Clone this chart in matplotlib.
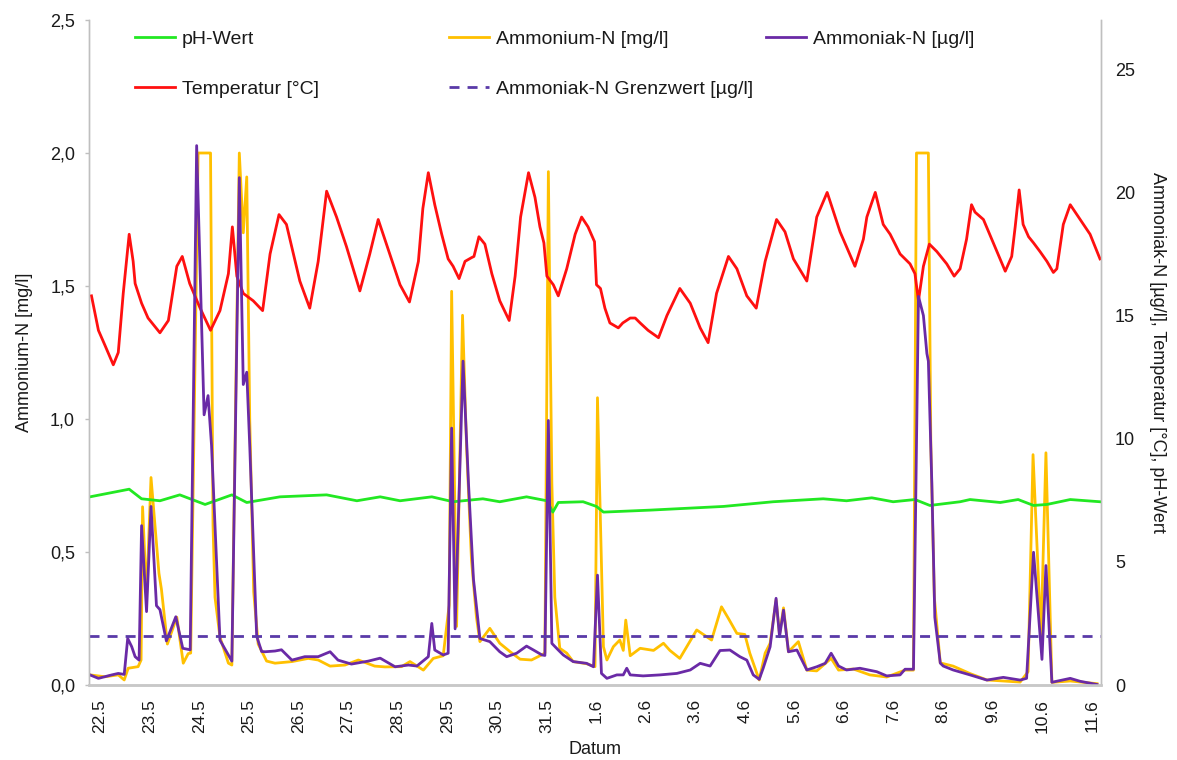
import matplotlib
matplotlib.use('Agg')
import matplotlib.pyplot as plt
from matplotlib.lines import Line2D
from matplotlib.ticker import FuncFormatter, FixedLocator

plt.rcParams['font.family'] = ['Liberation Sans', 'DejaVu Sans']

# ---------------- data (x = days since 22.5.) ----------------
date_labels = ['22.5', '23.5', '24.5', '25.5', '26.5', '27.5', '28.5', '29.5', '30.5', '31.5',
               '1.6', '2.6', '3.6', '4.6', '5.6', '6.6', '7.6', '8.6', '9.6', '10.6', '11.6']

temp_day = [-0.17, -0.03, 0.10, 0.27, 0.37, 0.47, 0.59, 0.67, 0.71, 0.84, 0.97, 1.21, 1.38, 1.55, 1.66,
            1.81, 2.02, 2.23, 2.42, 2.59, 2.67, 2.76, 2.89, 3.09, 3.28, 3.43, 3.61, 3.76, 4.03, 4.23,
            4.40, 4.57, 4.77, 4.97, 5.24, 5.44, 5.61, 6.05, 6.24, 6.42, 6.51, 6.62, 6.75, 6.89, 7.02,
            7.12, 7.24, 7.36, 7.49, 7.54, 7.64, 7.76, 7.90, 8.06, 8.25, 8.37, 8.48, 8.64, 8.77, 8.87,
            8.95, 9.01, 9.14, 9.24, 9.41, 9.58, 9.71, 9.84, 9.97, 10.01, 10.09, 10.18, 10.28, 10.45,
            10.54, 10.69, 10.79, 10.89, 11.05, 11.26, 11.43, 11.69, 11.90, 12.10, 12.26, 12.43, 12.67,
            12.84, 13.04, 13.23, 13.41, 13.64, 13.81, 13.98, 14.25, 14.45, 14.66, 14.92, 15.22, 15.39,
            15.46, 15.63, 15.79, 15.93, 16.13, 16.33, 16.43, 16.50, 16.60, 16.72, 16.87, 17.07, 17.22,
            17.34, 17.47, 17.57, 17.64, 17.81, 18.01, 18.25, 18.38, 18.45, 18.53, 18.61, 18.72, 18.82,
            18.95, 19.09, 19.22, 19.29, 19.42, 19.56, 19.76, 19.96, 20.16]
temp_val = [15.8, 14.4, 13.8, 13.0, 13.5, 15.9, 18.3, 17.2, 16.3, 15.5, 14.9, 14.3, 14.8, 17.0, 17.4,
            16.3, 15.3, 14.4, 15.2, 16.7, 18.6, 16.6, 15.9, 15.6, 15.2, 17.5, 19.1, 18.7, 16.4, 15.3,
            17.2, 20.05, 19.0, 17.8, 16.0, 17.5, 18.9, 16.25, 15.55, 17.2, 19.35, 20.8, 19.5, 18.3, 17.3,
            17.0, 16.5, 17.2, 17.35, 17.4, 18.2, 17.9, 16.7, 15.6, 14.8, 16.6, 19.0, 20.8, 19.8, 18.6,
            17.95, 16.6, 16.25, 15.8, 16.9, 18.3, 19.0, 18.6, 18.0, 16.25, 16.1, 15.3, 14.7, 14.5,
            14.7, 14.9, 14.9, 14.7, 14.4, 14.1, 15.0, 16.1, 15.5, 14.5, 13.9, 15.9, 17.4,
            16.9, 15.8, 15.3, 17.2, 18.9, 18.4, 17.3, 16.4, 19.0, 20.0, 18.4, 17.0, 18.1,
            19.0, 20.0, 18.7, 18.3, 17.5, 17.1, 16.7, 15.6, 17.0, 17.9, 17.6, 17.1, 16.6,
            16.9, 18.1, 19.5, 19.2, 18.9, 17.95, 16.8, 17.4, 18.6, 20.1, 18.7, 18.2, 17.95,
            17.6, 17.2, 16.75, 16.9, 18.7, 19.5, 18.9, 18.3, 17.3]

ph_day = [-0.20, 0.59, 0.84, 1.21, 1.61, 2.12, 2.66, 2.96, 3.63, 4.57, 5.18, 5.65, 6.05, 6.69, 7.12,
          7.72, 8.06, 8.60, 9.01, 9.13, 9.24, 9.74, 10.01, 10.15, 11.09, 12.57, 13.57, 14.58, 15.05,
          15.56, 15.99, 16.43, 16.73, 17.34, 17.54, 18.15, 18.51, 18.82, 19.09, 19.56, 20.16]
ph_val = [7.64, 7.95, 7.56, 7.48, 7.72, 7.33, 7.72, 7.41, 7.64, 7.72, 7.48, 7.64, 7.48, 7.64, 7.44,
          7.56, 7.44, 7.64, 7.48, 7.02, 7.41, 7.44, 7.25, 7.02, 7.10, 7.25, 7.44, 7.56, 7.48,
          7.60, 7.44, 7.53, 7.29, 7.44, 7.53, 7.41, 7.53, 7.29, 7.33, 7.53, 7.44]

nh4_day = [-0.20, 0.10, 0.37, 0.49, 0.57, 0.77, 0.83, 0.86, 0.94, 1.03, 1.19, 1.24, 1.36, 1.55, 1.68,
           1.78, 1.83, 1.98, 2.02, 2.20, 2.23, 2.28, 2.32, 2.42, 2.59, 2.66, 2.70, 2.81, 2.89, 2.96,
           3.02, 3.10, 3.19, 3.36, 3.53, 3.87, 4.20, 4.40, 4.64, 4.94, 5.21, 5.54, 5.75, 6.08, 6.25,
           6.52, 6.72, 6.92, 7.04, 7.09, 7.19, 7.31, 7.39, 7.49, 7.59, 7.66, 7.86, 8.06, 8.27, 8.47,
           8.70, 8.87, 8.97, 9.04, 9.11, 9.17, 9.27, 9.41, 9.54, 9.81, 9.98, 10.03, 10.15, 10.22,
           10.35, 10.48, 10.55, 10.60, 10.69, 10.89, 11.16, 11.36, 11.49, 11.69, 12.03, 12.33, 12.53,
           12.67, 12.84, 13.00, 13.10, 13.29, 13.41, 13.51, 13.63, 13.70, 13.78, 13.88, 14.08, 14.25,
           14.45, 14.74, 14.89, 15.19, 15.52, 15.86, 16.23, 16.40, 16.46, 16.70, 16.75, 16.82, 16.94,
           17.20, 17.54, 17.88, 18.55, 18.71, 18.81, 18.97, 19.07, 19.19, 19.56, 20.10]
nh4_val = [0.038, 0.031, 0.038, 0.019, 0.063, 0.069, 0.094, 0.67, 0.33, 0.78, 0.42, 0.36, 0.154, 0.255, 0.082,
           0.118, 0.12, 2.0, 2.0, 2.0, 2.0, 0.6, 0.33, 0.18, 0.082, 0.075, 0.61, 2.0, 1.7, 1.91,
           1.0, 0.35, 0.154, 0.09, 0.082, 0.088, 0.10, 0.094, 0.071, 0.075, 0.094, 0.071, 0.068, 0.069, 0.088,
           0.056, 0.10, 0.11, 0.3, 1.48, 0.22, 1.39, 0.90, 0.47, 0.255, 0.163, 0.213, 0.157, 0.125, 0.097,
           0.094, 0.11, 0.12, 1.93, 0.76, 0.33, 0.138, 0.12, 0.088, 0.08, 0.069, 1.08, 0.144, 0.094,
           0.144, 0.169, 0.13, 0.244, 0.11, 0.138, 0.13, 0.157, 0.13, 0.10, 0.207, 0.169, 0.294,
           0.25, 0.194, 0.19, 0.12, 0.019, 0.12, 0.157, 0.32, 0.19, 0.29, 0.125, 0.163, 0.056,
           0.053, 0.10, 0.056, 0.06, 0.038, 0.03, 0.056, 0.056, 2.0, 2.0, 0.90, 0.33, 0.083,
           0.071, 0.043, 0.019, 0.011, 0.05, 0.866, 0.18, 0.873, 0.01, 0.015, 0.005]

nh3_day = [-0.20, -0.03, 0.24, 0.37, 0.49, 0.56, 0.64, 0.71, 0.79, 0.84, 0.94, 1.03, 1.14, 1.21, 1.34,
           1.53, 1.67, 1.82, 1.95, 2.10, 2.18, 2.25, 2.42, 2.55, 2.66, 2.81, 2.89, 2.96, 3.02, 3.16,
           3.26, 3.33, 3.53, 3.66, 3.87, 4.13, 4.40, 4.64, 4.80, 5.07, 5.41, 5.65, 5.95, 6.22, 6.39,
           6.62, 6.69, 6.75, 6.92, 7.02, 7.09, 7.16, 7.32, 7.43, 7.53, 7.63, 7.66, 7.86, 8.06, 8.20,
           8.40, 8.60, 8.74, 8.91, 8.97, 9.04, 9.11, 9.24, 9.34, 9.54, 9.81, 9.95, 10.03, 10.11, 10.22,
           10.42, 10.55, 10.62, 10.69, 10.95, 11.29, 11.63, 11.90, 12.10, 12.30, 12.50, 12.70, 12.90,
           13.04, 13.17, 13.29, 13.37, 13.51, 13.63, 13.70, 13.78, 13.88, 14.05, 14.25, 14.45, 14.62,
           14.74, 14.89, 15.05, 15.32, 15.66, 15.86, 16.13, 16.23, 16.40, 16.50, 16.60, 16.67, 16.70,
           16.77, 16.83, 16.94, 17.00, 17.20, 17.54, 17.88, 18.21, 18.55, 18.68, 18.82, 18.99, 19.07,
           19.19, 19.56, 19.76, 20.10]
nh3_val = [0.41, 0.27, 0.41, 0.47, 0.43, 1.89, 1.56, 1.15, 1.01, 6.47, 2.98, 7.25, 3.22, 3.06, 1.79,
           2.77, 1.49, 1.43, 21.9, 10.97, 11.75, 9.73, 1.82, 1.36, 0.97, 20.6, 12.2, 12.7, 9.73, 1.98,
           1.36, 1.35, 1.38, 1.43, 1.01, 1.15, 1.15, 1.35, 1.01, 0.85, 0.97, 1.09, 0.74, 0.81, 0.77,
           1.15, 2.50, 1.42, 1.22, 1.29, 10.43, 2.28, 13.15, 8.18, 4.30, 2.44, 1.89, 1.76, 1.35, 1.15,
           1.29, 1.58, 1.42, 1.22, 1.20, 10.74, 1.69, 1.42, 1.22, 0.95, 0.88, 0.74, 4.46, 0.47, 0.27,
           0.41, 0.41, 0.68, 0.41, 0.37, 0.41, 0.47, 0.61, 0.88, 0.77, 1.40, 1.42, 1.15,
           1.01, 0.41, 0.23, 0.68, 1.55, 3.52, 1.96, 3.04, 1.35, 1.42, 0.61, 0.74, 0.88,
           1.29, 0.77, 0.61, 0.68, 0.54, 0.37, 0.41, 0.64, 0.64, 15.78, 15.0, 13.46, 13.15,
           8.18, 2.75, 0.89, 0.77, 0.61, 0.41, 0.20, 0.31, 0.20, 0.27, 5.39, 1.04, 4.85,
           0.11, 0.27, 0.15, 0.02]

grenzwert = 2.0

# ---------------- colours ----------------
c_ph = '#22e822'
c_temp = '#ff1010'
c_nh4 = '#ffc000'
c_nh3 = '#6a2aa6'
c_grenz = '#5a3aa8'
c_spine = '#bfbfbf'
c_text = '#1a1a1a'

W, H = 1177, 760
fig = plt.figure(figsize=(W / 100, H / 100), dpi=100)
ax1 = fig.add_axes([89 / W, 1 - 685 / H, (1101 - 89) / W, 665 / H])
ax2 = ax1.twinx()

lw = 2.0
ax1.plot(nh4_day, nh4_val, color=c_nh4, lw=lw, solid_joinstyle='round')
ax2.plot(ph_day, ph_val, color=c_ph, lw=lw, solid_joinstyle='round')
ax2.plot(temp_day, temp_val, color=c_temp, lw=lw, solid_joinstyle='round')
ax2.plot(nh3_day, nh3_val, color=c_nh3, lw=lw, solid_joinstyle='round')
ax2.axhline(grenzwert, color=c_grenz, lw=lw, dashes=(3.6, 2.9))

ax1.set_xlim(-0.22, 20.18)
ax1.set_ylim(0, 2.5)
ax2.set_ylim(0, 27)

ax1.xaxis.set_major_locator(FixedLocator(range(len(date_labels))))
ax1.set_xticklabels(date_labels, rotation=90, fontsize=12.5, color=c_text)
ax1.tick_params(axis='x', length=0, pad=10)

ax1.set_yticks([0, 0.5, 1.0, 1.5, 2.0, 2.5])
ax1.yaxis.set_major_formatter(FuncFormatter(lambda v, p: f'{v:.1f}'.replace('.', ',')))
ax1.tick_params(axis='y', labelsize=13, colors=c_text, length=3, width=1, pad=7)
ax1.tick_params(axis='y', color=c_spine)

ax2.set_yticks([0, 5, 10, 15, 20, 25])
ax2.tick_params(axis='y', labelsize=13, colors=c_text, length=0, pad=10)

for ax in (ax1, ax2):
    ax.spines['top'].set_visible(False)
    for s in ('left', 'right'):
        ax.spines[s].set_color(c_spine)
        ax.spines[s].set_linewidth(1.0)
    ax.spines['bottom'].set_color('#c8c8c8')
    ax.spines['bottom'].set_linewidth(1.8)

ax1.set_xlabel('Datum', fontsize=13, color=c_text, labelpad=6)
ax1.set_ylabel('Ammonium-N [mg/l]', fontsize=13, color=c_text, labelpad=12)
ax2.set_ylabel('Ammoniak-N [µg/l], Temperatur [°C], pH-Wert', fontsize=13, color=c_text,
               rotation=270, labelpad=22)

# ---------------- legend (three columns, placed like the original) ----------------
def col_legend(handles, labels, x_px, y_px):
    leg = fig.legend(handles, labels, loc='upper left',
                     bbox_to_anchor=(x_px / W, 1 - y_px / H), bbox_transform=fig.transFigure,
                     frameon=False, fontsize=14, handlelength=2.05, handletextpad=0.35,
                     labelspacing=1.7, borderpad=0, borderaxespad=0)
    for t in leg.get_texts():
        t.set_color(c_text)
    return leg

h_ph = Line2D([], [], color=c_ph, lw=lw)
h_temp = Line2D([], [], color=c_temp, lw=lw)
h_nh4 = Line2D([], [], color=c_nh4, lw=lw)
h_grenz = Line2D([], [], color=c_grenz, lw=lw, dashes=(3.6, 2.9))
h_nh3 = Line2D([], [], color=c_nh3, lw=lw)

col_legend([h_ph, h_temp], ['pH-Wert', 'Temperatur [°C]'], 135, 30)
col_legend([h_nh4, h_grenz], ['Ammonium-N [mg/l]', 'Ammoniak-N Grenzwert [µg/l]'], 449, 30)
col_legend([h_nh3], ['Ammoniak-N [µg/l]'], 766, 30)

fig.savefig('out.png', dpi=100)
